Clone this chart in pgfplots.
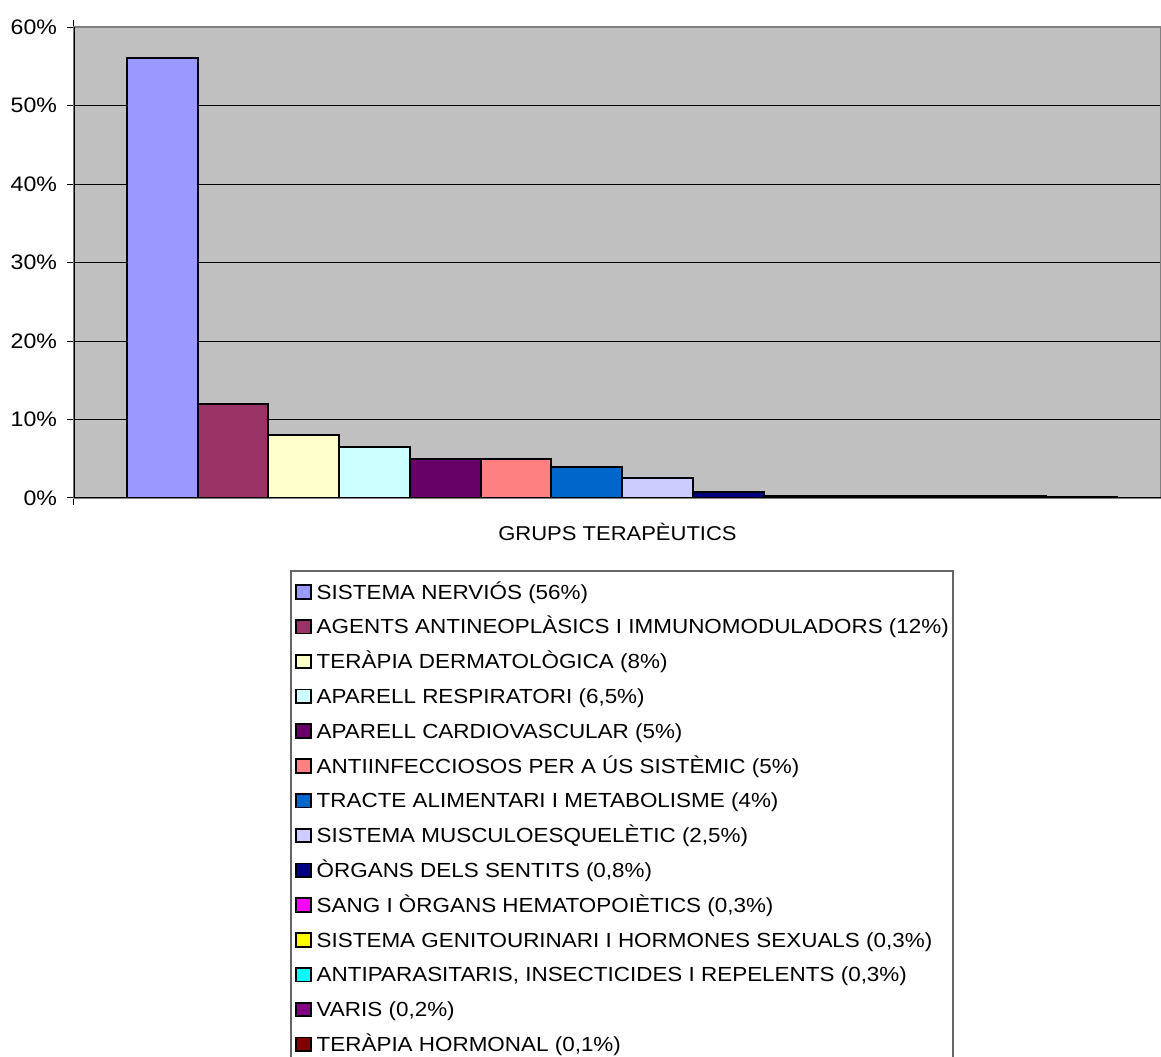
\documentclass[border=0pt]{standalone}
\usepackage{pgfplots}
\pgfplotsset{compat=1.18}
\usepackage{fontspec}
\setmainfont{Liberation Sans}[FakeStretch=1.1]
\definecolor{c1}{HTML}{9999FF}
\definecolor{c2}{HTML}{993366}
\definecolor{c3}{HTML}{FFFFCC}
\definecolor{c4}{HTML}{CCFFFF}
\definecolor{c5}{HTML}{660066}
\definecolor{c6}{HTML}{FF8080}
\definecolor{c7}{HTML}{0066CC}
\definecolor{c8}{HTML}{CCCCFF}
\definecolor{c9}{HTML}{000080}
\definecolor{c10}{HTML}{FF00FF}
\definecolor{c11}{HTML}{FFFF00}
\definecolor{c12}{HTML}{00FFFF}
\definecolor{c13}{HTML}{800080}
\definecolor{c14}{HTML}{800000}
\definecolor{bg}{HTML}{C0C0C0}
\definecolor{frame}{HTML}{808080}
\begin{document}
\begin{tikzpicture}
\pgfplotsset{
  mybar/.style={ybar, bar width=1, bar shift=0pt, draw=black, line width=1pt,
    legend image code/.code={%
      \draw[##1, line width=0.9pt] (0pt,-3.4pt) rectangle (7.5pt,3.4pt);
      \path (10pt,0pt);}},
}
\begin{axis}[
  scale only axis,
  width=543.5pt, height=235.5pt,
  xmin=-1.25, xmax=14.12,
  ymin=0, ymax=60,
  axis background/.style={fill=bg},
  axis line style={draw=frame, line width=1pt},
  ytick={0,10,20,30,40,50,60},
  yticklabels={0\%,10\%,20\%,30\%,40\%,50\%,60\%},
  xtick={-1.25}, xticklabels={},
  tick align=outside,
  major tick length=3.5pt,
  tick style={black, line width=0.5pt},
  ymajorgrids,
  grid style={black, line width=0.5pt},
  /pgf/number format/assume math mode=true,
  yticklabel style={font=\fontsize{10.5}{12}\selectfont, xshift=-1.5pt},
  xlabel={GRUPS TERAPÈUTICS},
  xlabel style={at={(axis description cs:0.5,0)}, anchor=center, yshift=-17pt, font=\fontsize{10}{12}\selectfont},
  legend cell align=left,
  legend style={at={(0.1987,-0.1529)}, anchor=north west, draw=black!60, line width=0.8pt,
    fill=white, font=\fontsize{10.2}{12}\selectfont, inner xsep=2pt, inner ysep=1.8pt,
    nodes={inner xsep=0pt, inner ysep=4pt, text height=8.3pt, text depth=1.1pt},
    row sep=0pt},
]
\addplot[mybar, fill=c1] coordinates {(0,56)};
\addlegendentry{SISTEMA NERVIÓS (56\%)}
\addplot[mybar, fill=c2] coordinates {(1,12)};
\addlegendentry{AGENTS ANTINEOPLÀSICS I IMMUNOMODULADORS (12\%)\hspace{4.5pt}}
\addplot[mybar, fill=c3] coordinates {(2,8)};
\addlegendentry{TERÀPIA DERMATOLÒGICA (8\%)}
\addplot[mybar, fill=c4] coordinates {(3,6.5)};
\addlegendentry{APARELL RESPIRATORI (6,5\%)}
\addplot[mybar, fill=c5] coordinates {(4,5)};
\addlegendentry{APARELL CARDIOVASCULAR (5\%)}
\addplot[mybar, fill=c6] coordinates {(5,5)};
\addlegendentry{ANTIINFECCIOSOS PER A ÚS SISTÈMIC (5\%)}
\addplot[mybar, fill=c7] coordinates {(6,4)};
\addlegendentry{TRACTE ALIMENTARI I METABOLISME (4\%)}
\addplot[mybar, fill=c8] coordinates {(7,2.5)};
\addlegendentry{SISTEMA MUSCULOESQUELÈTIC (2,5\%)}
\addplot[mybar, fill=c9] coordinates {(8,0.8)};
\addlegendentry{ÒRGANS DELS SENTITS (0,8\%)}
\addplot[mybar, fill=c10] coordinates {(9,0.3)};
\addlegendentry{SANG I ÒRGANS HEMATOPOIÈTICS (0,3\%)}
\addplot[mybar, fill=c11] coordinates {(10,0.3)};
\addlegendentry{SISTEMA GENITOURINARI I HORMONES SEXUALS (0,3\%)}
\addplot[mybar, fill=c12] coordinates {(11,0.3)};
\addlegendentry{ANTIPARASITARIS, INSECTICIDES I REPELENTS (0,3\%)}
\addplot[mybar, fill=c13] coordinates {(12,0.2)};
\addlegendentry{VARIS (0,2\%)}
\addplot[mybar, fill=c14] coordinates {(13,0.1)};
\addlegendentry{TERÀPIA HORMONAL (0,1\%)}
\draw[black, line width=0.8pt] (rel axis cs:0,0) -- (rel axis cs:0,1);
\draw[black, line width=0.8pt] (rel axis cs:0,0) -- (rel axis cs:1,0);
\coordinate (TL) at (rel axis cs:0,1);
\coordinate (BR) at (rel axis cs:1,0);
\end{axis}
\pgfresetboundingbox
\path[use as bounding box] ([xshift=-37pt,yshift=13.5pt]TL) rectangle ([yshift=-279.5pt]BR);
\end{tikzpicture}
\end{document}
